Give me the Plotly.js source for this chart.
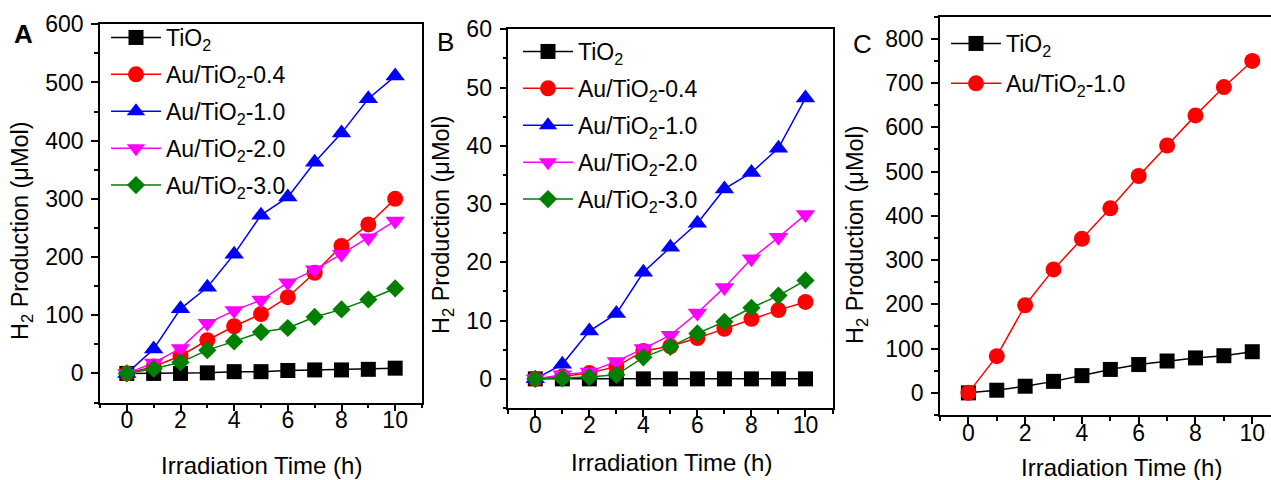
<!DOCTYPE html>
<html>
<head>
<meta charset="utf-8">
<script src="https://cdn.plot.ly/plotly-3.0.1.min.js"></script>
<style>html,body{margin:0;padding:0;background:#fff;overflow:hidden}#chart{width:1271px;height:480px}</style>
</head>
<body>
<div id="chart"></div>
<script>
// ---------- data ----------
const hours = [0, 1, 2, 3, 4, 5, 6, 7, 8, 9, 10];

// Panel A
const a_TiO2  = [0, 0, 0, 1, 3, 3, 5, 6, 6, 7, 9];
const a_Au04  = [0, 12, 30, 57, 81, 102, 131, 173, 219, 256, 300];
const a_Au10  = [0, 42, 111, 148, 205, 272, 303, 363, 413, 472, 511];
const a_Au20  = [0, 18, 43, 86, 108, 126, 156, 178, 205, 233, 262];
const a_Au30  = [0, 8, 19, 40, 55, 71, 78, 97, 110, 127, 146];

// Panel B
const b_TiO2  = [0, 0, 0, 0, 0, 0, 0, 0, 0, 0, 0];
const b_Au04  = [0, 0.4, 1.0, 2.1, 4.8, 5.6, 7.0, 8.6, 10.3, 11.8, 13.2];
const b_Au10  = [0, 2.5, 8.2, 11.2, 18.3, 22.6, 26.7, 32.6, 35.4, 39.6, 48.2];
const b_Au20  = [0, 0.7, 1.2, 3.0, 5.2, 7.5, 11.3, 15.7, 20.6, 24.3, 28.2];
const b_Au30  = [0, 0.1, 0.3, 0.7, 3.7, 5.5, 7.8, 9.8, 12.2, 14.3, 16.9];

// Panel C
const c_TiO2  = [0, 6, 15, 26, 39, 53, 64, 72, 79, 84, 93];
const c_Au10  = [0, 83, 198, 279, 348, 417, 490, 559, 627, 691, 750];

const seriesNames = ["TiO<sub>2</sub>", "Au/TiO<sub>2</sub>-0.4", "Au/TiO<sub>2</sub>-1.0", "Au/TiO<sub>2</sub>-2.0", "Au/TiO<sub>2</sub>-3.0"];
const xTitle = "Irradiation Time (h)";
const yTitle = "H<sub>2</sub> Production (\u03bcMol)";
const panelLabels = ["A", "B", "C"];

// ---------- styles ----------
const FONT = "Liberation Sans, Arial, sans-serif";
const styles = {
  TiO2: {color: "#000000", symbol: "square", size: 15},
  Au04: {color: "#ff0000", symbol: "circle", size: 16},
  Au10: {color: "#0000ff", symbol: "triangle-up", size: 17},
  Au20: {color: "#ff00ff", symbol: "triangle-down", size: 17},
  Au30: {color: "#008000", symbol: "diamond", size: 14}
};

function tr(y, name, st, xa, ya, leg, grp) {
  return {
    x: hours, y: y, name: name, type: "scatter", mode: "lines+markers",
    xaxis: xa, yaxis: ya, legend: leg, legendgroup: grp,
    line: {color: st.color, width: 1.5},
    marker: {color: st.color, symbol: st.symbol, size: st.size, line: {width: 0}},
    cliponaxis: false
  };
}

const data = [
  tr(a_TiO2, seriesNames[0], styles.TiO2, "x", "y", "legend", "a0"),
  tr(a_Au04, seriesNames[1], styles.Au04, "x", "y", "legend", "a1"),
  tr(a_Au10, seriesNames[2], styles.Au10, "x", "y", "legend", "a2"),
  tr(a_Au20, seriesNames[3], styles.Au20, "x", "y", "legend", "a3"),
  tr(a_Au30, seriesNames[4], styles.Au30, "x", "y", "legend", "a4"),
  tr(b_TiO2, seriesNames[0], styles.TiO2, "x2", "y2", "legend2", "b0"),
  tr(b_Au04, seriesNames[1], styles.Au04, "x2", "y2", "legend2", "b1"),
  tr(b_Au10, seriesNames[2], styles.Au10, "x2", "y2", "legend2", "b2"),
  tr(b_Au20, seriesNames[3], styles.Au20, "x2", "y2", "legend2", "b3"),
  tr(b_Au30, seriesNames[4], styles.Au30, "x2", "y2", "legend2", "b4"),
  tr(c_TiO2, seriesNames[0], styles.TiO2, "x3", "y3", "legend3", "c0"),
  tr(c_Au10, seriesNames[2], styles.Au04, "x3", "y3", "legend3", "c1")
];

const W = 1271, H = 480;
function px(x) { return x / W; }
function py(y) { return 1 - y / H; }

function xax(domain, range, anchor) {
  return {
    domain: domain, range: range, anchor: anchor,
    showgrid: false, zeroline: false,
    showline: true, linecolor: "#000", linewidth: 1.5, mirror: true,
    ticks: "outside", ticklen: 7, tickwidth: 1.5, tickcolor: "#000",
    tick0: 0, dtick: 2,
    minor: {dtick: 1, ticks: "outside", ticklen: 4, tickwidth: 1.5, tickcolor: "#000", showgrid: false},
    tickfont: {family: FONT, size: 23, color: "#000"},
    ticklabelstandoff: -11,
    fixedrange: true
  };
}
function yax(domain, range, dtick, anchor, mirror) {
  return {
    domain: domain, range: range, anchor: anchor,
    showgrid: false, zeroline: false,
    showline: true, linecolor: "#000", linewidth: 1.5, mirror: mirror,
    ticks: "outside", ticklen: 7, tickwidth: 1.5, tickcolor: "#000",
    tick0: 0, dtick: dtick,
    minor: {dtick: dtick / 2, ticks: "outside", ticklen: 4, tickwidth: 1.5, tickcolor: "#000", showgrid: false},
    tickfont: {family: FONT, size: 23, color: "#000"},
    ticklabelstandoff: 3,
    fixedrange: true
  };
}

function legendBox(x, y, gap) {
  return {
    x: x, y: y, xref: "paper", yref: "paper", xanchor: "left", yanchor: "top",
    bgcolor: "rgba(0,0,0,0)", borderwidth: 0,
    font: {family: FONT, size: 23, color: "#000"},
    traceorder: "grouped",
    itemwidth: 50, tracegroupgap: gap
  };
}

function ann(text, x, y, size, angle, bold) {
  return {
    text: bold ? "<b>" + text + "</b>" : text,
    x: px(x), y: py(y), xref: "paper", yref: "paper",
    xanchor: "center", yanchor: "middle", showarrow: false,
    textangle: angle || 0,
    font: {family: FONT, size: size, color: "#000"}
  };
}

const layout = {
  width: W, height: H,
  margin: {l: 0, r: 0, t: 0, b: 0},
  paper_bgcolor: "#fff", plot_bgcolor: "#fff",
  showlegend: true,
  xaxis:  xax([px(100), px(422)], [-1, 11], "y"),
  yaxis:  yax([py(402.5), py(24.3)], [-50, 600], 100, "x", true),
  xaxis2: xax([px(508.3), px(832.5)], [-1, 11], "y2"),
  yaxis2: yax([py(408), py(29.3)], [-5, 60], 10, "x2", true),
  xaxis3: Object.assign(xax([px(940), 1], [-1, 10.66], "y3"), {linewidth: 2}),
  yaxis3: yax([py(415), py(16.7)], [-50, 850], 100, "x3", false),
  legend:  legendBox(px(106), py(16), 4),
  legend2: legendBox(px(518), py(30), 4),
  legend3: legendBox(px(946), py(22), 7),
  annotations: [
    ann(panelLabels[0], 23, 34, 26, 0, true),
    ann(panelLabels[1], 445, 42, 26, 0, false),
    ann(panelLabels[2], 862, 44, 26, 0, false),
    ann(xTitle, 261, 465, 24),
    ann(xTitle, 671, 462, 24),
    ann(xTitle, 1121, 467, 24),
    ann(yTitle, 22, 231, 23.5, -90),
    ann(yTitle, 442, 225, 23.5, -90),
    ann(yTitle, 857, 235, 23.5, -90)
  ]
};

Plotly.newPlot("chart", data, layout, {displayModeBar: false});
</script>
</body>
</html>
